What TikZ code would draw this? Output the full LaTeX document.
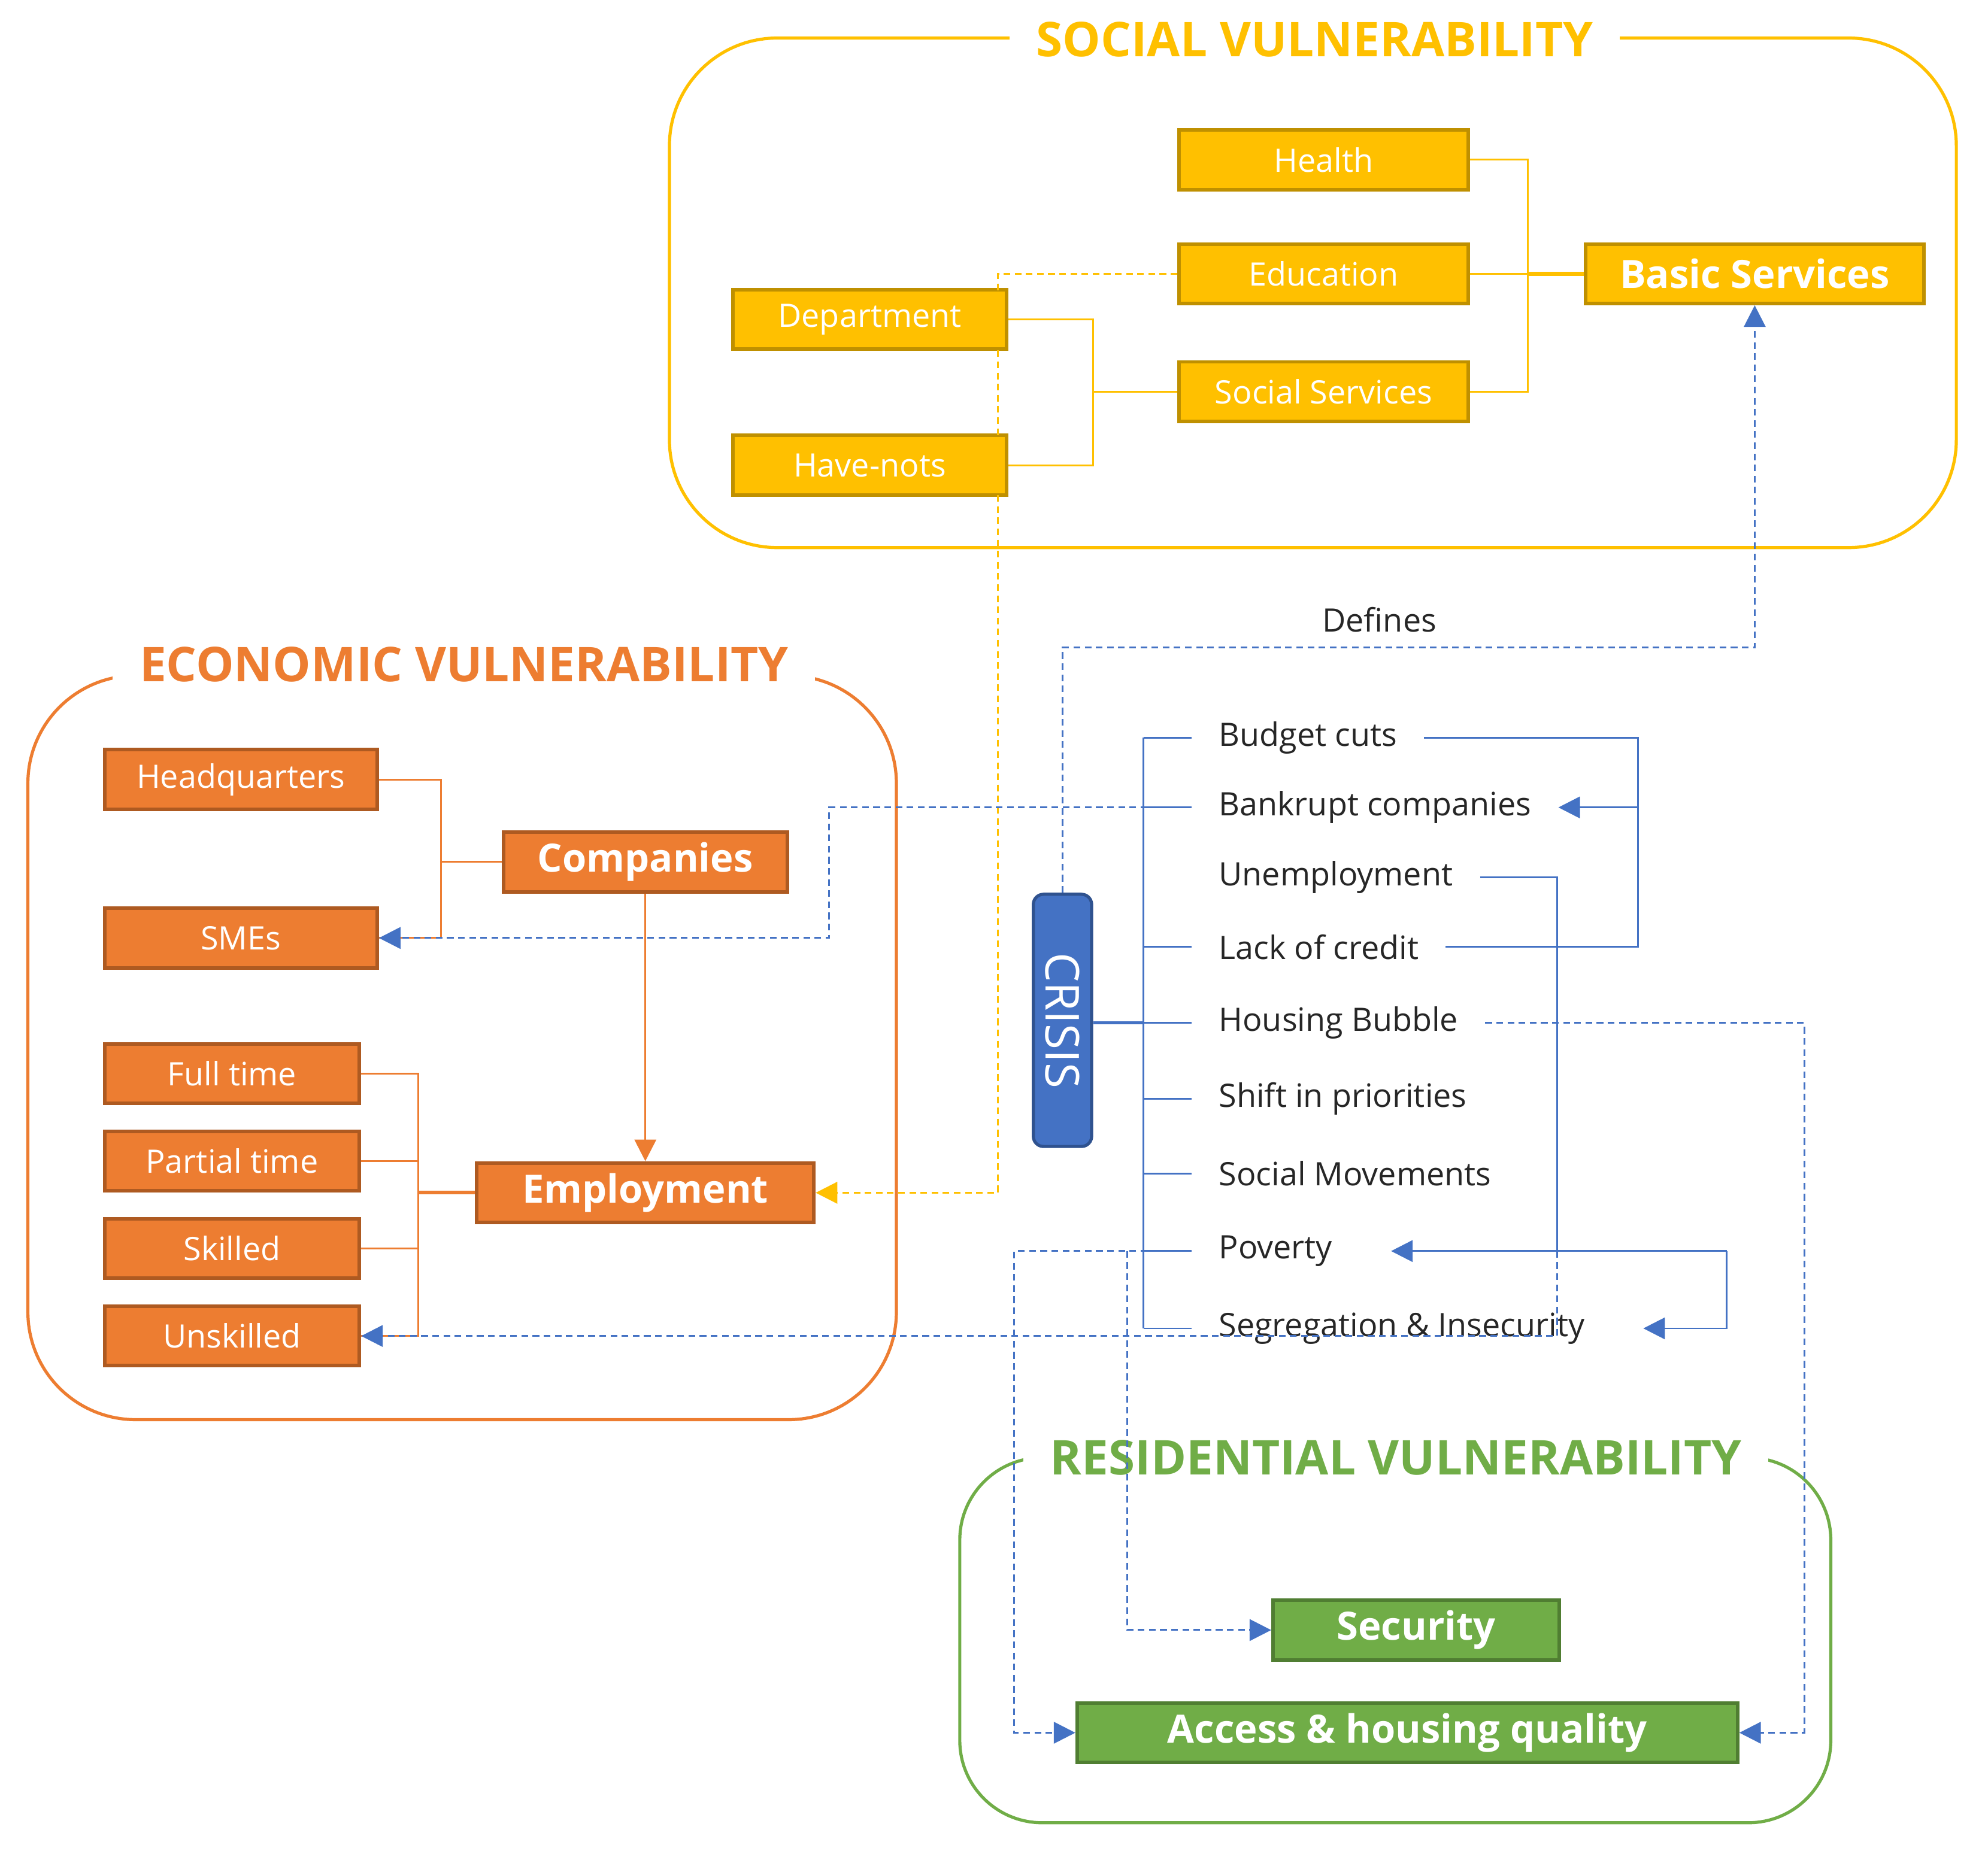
\documentclass[tikz,border=0pt]{standalone}
\usepackage{fontspec}
\setmainfont{Open Sans}
\usetikzlibrary{arrows.meta}
\definecolor{socfill}{HTML}{FFC000}
\definecolor{socedge}{HTML}{BF9000}
\definecolor{ecofill}{HTML}{ED7D31}
\definecolor{ecoedge}{HTML}{AE5A21}
\definecolor{resfill}{HTML}{70AD47}
\definecolor{resedge}{HTML}{507E32}
\definecolor{crsfill}{HTML}{4472C4}
\definecolor{crsedge}{HTML}{2F528F}
\definecolor{itemtxt}{HTML}{262626}

\begin{document}
\begin{tikzpicture}[
    x=0.02cm, y=-0.02cm,
    >={Triangle[length=3.4mm,width=3.4mm]},
    frame/.style={line width=1.4pt, rounded corners=1.7cm},
    ttl/.style={fill=white, inner xsep=12pt, inner ysep=2pt, font=\bfseries\fontsize{21.5}{26}\selectfont},
    tbox/.style={draw, line width=1.6pt, minimum height=0.94cm, text=white, inner sep=0pt,
                 font=\fontsize{14.5}{17}\selectfont},
    ybox/.style={tbox, fill=socfill, draw=socedge},
    obox/.style={tbox, fill=ecofill, draw=ecoedge},
    gbox/.style={tbox, fill=resfill, draw=resedge},
    keybox/.style={font=\bfseries\fontsize{17.5}{21}\selectfont},
    item/.style={anchor=west, inner xsep=0.42cm, text=itemtxt, font=\fontsize{14.5}{17}\selectfont},
    yline/.style={draw=socfill, line width=0.8pt},
    oline/.style={draw=ecofill, line width=0.8pt},
    bline/.style={draw=crsfill, line width=0.8pt},
    bdash/.style={bline, dash pattern=on 3pt off 2pt},
    ydash/.style={yline, dash pattern=on 3pt off 2pt},
  ]
  \useasboundingbox (0,0) rectangle (1568,1460);

  %% ---------------- frames ----------------
  \draw[frame, draw=socfill] (528,30) rectangle (1543,432);
  \node[ttl, text=socfill] (stl) at (1037,31) {SOCIAL VULNERABILITY};
  \draw[frame, draw=ecofill] (22,533) rectangle (707,1120);
  \node[ttl, text=ecofill] (etl) at (366,524) {ECONOMIC VULNERABILITY};
  \draw[frame, draw=resfill, rounded corners=1.3cm] (757,1150) rectangle (1444,1438);
  \node[ttl, text=resfill] (rtl) at (1101,1150) {RESIDENTIAL VULNERABILITY};

  %% ---------------- social ----------------
  \node[ybox, minimum width=4.56cm] (hea) at (1044,126) {Health};
  \node[ybox, minimum width=4.56cm] (edu) at (1044,216) {Education};
  \node[ybox, minimum width=4.56cm] (ssv) at (1044,309) {Social Services};
  \node[ybox, minimum width=4.32cm] (dep) at (686,252) {Department};
  \node[ybox, minimum width=4.32cm] (hav) at (686,367) {Have-nots};
  \node[ybox, keybox, minimum width=5.34cm] (bas) at (1384,216) {Basic Services};

  %% ---------------- economic ----------------
  \node[obox, minimum width=4.3cm] (hq) at (190,615) {Headquarters};
  \node[obox, minimum width=4.3cm] (sme) at (190,740) {SMEs};
  \node[obox, keybox, minimum width=4.48cm] (com) at (509,680) {Companies};
  \node[obox, keybox, minimum width=5.32cm] (emp) at (509,941) {Employment};
  \node[obox, minimum width=4.02cm] (ful) at (183,847) {Full time};
  \node[obox, minimum width=4.02cm] (par) at (183,916) {Partial time};
  \node[obox, minimum width=4.02cm] (ski) at (183,985) {Skilled};
  \node[obox, minimum width=4.02cm] (uns) at (183,1054) {Unskilled};

  %% ---------------- residential ----------------
  \node[gbox, keybox, minimum width=4.52cm] (sec) at (1117,1286) {Security};
  \node[gbox, keybox, minimum width=10.42cm] (acc) at (1110,1367) {Access \& housing quality};

  %% ---------------- crisis ----------------
  \node[draw=crsedge, fill=crsfill, line width=1.4pt, rounded corners=0.16cm,
        minimum width=0.92cm, minimum height=3.98cm, inner sep=0pt, text=white,
        font=\fontsize{21}{24}\selectfont] (cri) at (838,805) {\rotatebox{-90}{CRISIS}};
  \node[item] (bud) at (940,582) {Budget cuts};
  \node[item] (ban) at (940,637) {Bankrupt companies};
  \node[item] (une) at (940,692) {Unemployment};
  \node[item] (lac) at (940,747) {Lack of credit};
  \node[item] (hou) at (940,807) {Housing Bubble};
  \node[item] (shi) at (940,867) {Shift in priorities};
  \node[item] (soc) at (940,926) {Social Movements};
  \node[item] (pov) at (940,987) {Poverty};
  \node[item] (seg) at (940,1048) {Segregation \& Insecurity};
  \node[item, anchor=center] (dfn) at (1088,489) {Defines};

  %% ---------------- social links ----------------
  \coordinate (sj) at (1205,216);
  \coordinate (dj) at (862,309);
  \draw[yline] (hea.east) -| (sj) |- (ssv.east);
  \draw[yline] (edu.east) -- (sj);
  \draw[yline, line width=2pt] (sj) -- (bas.west);
  \draw[yline] (dep.east) -| (dj) |- (hav.east);
  \draw[yline] (dj) -- (ssv.west);

  %% ---------------- economic links ----------------
  \coordinate (cj) at (348,680);
  \coordinate (ej) at (330,941);
  \draw[oline] (hq.east) -| (cj) |- (sme.east);
  \draw[oline] (cj) -- (com.west);
  \draw[oline, ->] (com.south) -- (emp.north);
  \draw[oline] (ful.east) -| (ej) |- (uns.east);
  \draw[oline] (par.east) -| (ej);
  \draw[oline] (ski.east) -| (ej);
  \draw[oline, line width=1.6pt] (ej) -- (emp.west);

  %% ---------------- crisis links ----------------
  \coordinate (sp) at (902,807);
  \draw[bline, line width=1.4pt] (cri.east |- sp) -- (sp);
  \draw[bline] (bud.west -| sp) -- (seg.west -| sp);
  \foreach \n in {bud,ban,lac,hou,shi,soc,pov,seg}
    \draw[bline] (\n.west -| sp) -- (\n.west);

  \coordinate (bj) at (1292,637);
  \draw[bline] (bud.east) -| (bj) |- (lac.east);
  \draw[bline, ->] (bj) -- (ban.east);

  \coordinate (uj) at (1228,987);
  \coordinate (pr) at (1362,987);
  \draw[bline] (une.east) -| (uj);
  \draw[bline, ->, shorten >=0.5cm] (pr) -- (pov.east);
  \draw[bline, ->, shorten >=0.5cm] (pr) |- (seg.east);

  %% ---------------- dashed links ----------------
  \coordinate (yd) at (787,941);
  \draw[ydash, ->] (edu.west) -| (yd) -- (emp.east);

  \coordinate (df) at (1384,511);
  \draw[bdash, ->] (cri.north) |- (df) -- (bas.south);

  \coordinate (bk) at (654,740);
  \draw[bdash, ->] (ban.west) -| (bk) -- (sme.east);

  \draw[bdash, ->] (uj) |- (uns.east);

  \coordinate (hb) at (1423,1367);
  \draw[bdash, ->] (hou.east) -| (hb) -- (acc.east);

  \coordinate (pa) at (800,1367);
  \coordinate (ps) at (889,987);
  \draw[bdash, ->] (pov.west) -| (pa) -- (acc.west);
  \draw[bdash, ->] (ps) |- (sec.west);

\end{tikzpicture}
\end{document}
